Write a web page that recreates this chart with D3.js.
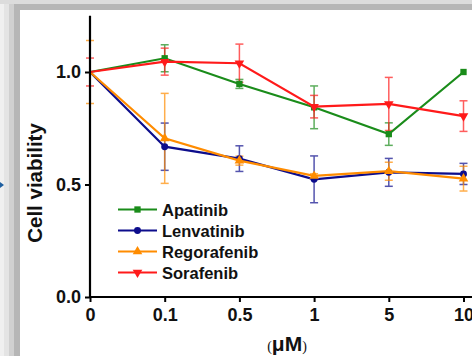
<!DOCTYPE html>
<html><head><meta charset="utf-8">
<script src="https://cdn.jsdelivr.net/npm/d3@7"></script>
<style>html,body{margin:0;padding:0;background:#fff;overflow:hidden}svg{display:block}</style>
</head><body>
<svg id="c" width="472" height="356"></svg>
<script>
const categories = ["0", "0.1", "0.5", "1", "5", "10"];
const seriesNames = ["Apatinib", "Lenvatinib", "Regorafenib", "Sorafenib"];
const seriesColors = ["#1a8c1a", "#0d0d8c", "#ff8c00", "#ff1a1a"];
const seriesSymbols = ["square", "circle", "triangle", "triangleDown"];
const apatinib = [1.0, 1.061, 0.947, 0.843, 0.724, 1.0];
const apatinibErr = [0.0, 0.06, 0.02, 0.095, 0.05, 0.0];
const lenvatinib = [1.0, 0.668, 0.615, 0.523, 0.554, 0.547];
const lenvatinibErr = [0.0, 0.105, 0.057, 0.104, 0.062, 0.047];
const regorafenib = [1.0, 0.705, 0.606, 0.538, 0.559, 0.526];
const regorafenibErr = [0.14, 0.2, 0.02, 0.01, 0.04, 0.055];
const sorafenib = [1.0, 1.046, 1.039, 0.846, 0.858, 0.804];
const sorafenibErr = [0.062, 0.06, 0.085, 0.05, 0.118, 0.068];
const yTicks = [0, 0.5, 1.0];

const values = [apatinib, lenvatinib, regorafenib, sorafenib];
const errs = [apatinibErr, lenvatinibErr, regorafenibErr, sorafenibErr];

const svg = d3.select("#c");
// screenshot frame background
const frame = svg.append("g");
frame.append("rect").attr("x",0).attr("y",0).attr("width",472).attr("height",4).attr("fill","#dcdcdc");
frame.append("rect").attr("x",0).attr("y",4).attr("width",472).attr("height",6).attr("fill","#b6b6b6");
[["#f0f0f0",0,4],["#e4e4e4",4,5],["#d0d0d0",9,5],["#b6b6b6",14,6]].forEach(([c,x,w])=>{
  frame.append("rect").attr("x",x).attr("y",4).attr("width",w).attr("height",352).attr("fill",c);
});
frame.append("path").attr("d","M0,182 L4,185 L0,188 Z").attr("fill","#1f5fa0");

const x = d3.scalePoint().domain(categories).range([90, 463.5]);
const y = d3.scaleLinear().domain([0, 1.25]).range([297, 15.75]);

const font = "'Liberation Sans', Arial, sans-serif";

// error bars
values.forEach((vals, si) => {
  const g = svg.append("g").attr("stroke", seriesColors[si]).attr("stroke-width", 1.5).attr("opacity", 0.7);
  vals.forEach((v, i) => {
    const e = errs[si][i];
    if (!e) return;
    const cx = x(categories[i]);
    g.append("line").attr("x1", cx).attr("x2", cx).attr("y1", y(v + e)).attr("y2", y(v - e));
    g.append("line").attr("x1", cx - 4).attr("x2", cx + 4).attr("y1", y(v + e)).attr("y2", y(v + e));
    g.append("line").attr("x1", cx - 4).attr("x2", cx + 4).attr("y1", y(v - e)).attr("y2", y(v - e));
  });
});

const symTypes = {square: d3.symbolSquare, circle: d3.symbolCircle, triangle: d3.symbolTriangle, triangleDown: d3.symbolTriangle};
const symSizes = {square: 40, circle: 38, triangle: 40, triangleDown: 40};
function drawSym(g, si, cx, cy) {
  const t = seriesSymbols[si];
  g.append("path").attr("d", d3.symbol().type(symTypes[t]).size(symSizes[t])())
    .attr("transform", `translate(${cx},${cy})` + (t === "triangleDown" ? " rotate(180)" : ""))
    .attr("fill", seriesColors[si]);
}

// lines and markers
const line = d3.line().x((d, i) => x(categories[i])).y(d => y(d));
values.forEach((vals, si) => {
  svg.append("path").datum(vals).attr("d", line).attr("fill", "none")
    .attr("stroke", seriesColors[si]).attr("stroke-width", 2.2);
  const g = svg.append("g");
  vals.forEach((v, i) => { if (i > 0) drawSym(g, si, x(categories[i]), y(v)); });
});

// axes
const yAxis = d3.axisLeft(y).tickValues(yTicks).tickFormat(d3.format(".1f")).tickSize(5).tickPadding(4);
const ya = svg.append("g").attr("transform", "translate(90,0)").call(yAxis);
ya.select(".domain").attr("d", "M0,15.75V297").attr("stroke", "#000").attr("stroke-width", 2.2);
ya.selectAll(".tick line").attr("stroke-width", 2);
ya.selectAll("text").attr("font-family", font).attr("font-weight", "bold").attr("font-size", 18).attr("fill", "#111");

const xAxis = d3.axisBottom(x).tickSize(5).tickPadding(6);
const xa = svg.append("g").attr("transform", "translate(0,297)").call(xAxis);
xa.select(".domain").attr("d", "M89,0H480").attr("stroke", "#000").attr("stroke-width", 2.2);
xa.selectAll(".tick line").attr("stroke-width", 2);
xa.selectAll("text").attr("font-family", font).attr("font-weight", "bold").attr("font-size", 18).attr("fill", "#111");

// axis titles
svg.append("text").attr("transform", "translate(42,183) rotate(-90)").attr("text-anchor", "middle")
  .attr("font-family", font).attr("font-weight", "bold").attr("font-size", 20.5).attr("fill", "#111")
  .text("Cell viability");
const xt = svg.append("text").attr("x", 287).attr("y", 351).attr("text-anchor", "middle")
  .attr("font-family", font).attr("font-weight", "bold").attr("fill", "#111");
xt.append("tspan").attr("font-size", 14).attr("font-family", "'Liberation Serif', serif").attr("font-weight", "normal").text("(");
xt.append("tspan").attr("font-size", 21).text("\u03bcM");
xt.append("tspan").attr("font-size", 14).attr("font-family", "'Liberation Serif', serif").attr("font-weight", "normal").text(")");

// legend
const legY = [209.5, 230.5, 251.5, 272.5];
seriesNames.forEach((n, si) => {
  const g = svg.append("g");
  g.append("line").attr("x1", 118).attr("x2", 157).attr("y1", legY[si]).attr("y2", legY[si])
    .attr("stroke", seriesColors[si]).attr("stroke-width", 2.2);
  drawSym(g, si, 137.5, legY[si]);
  g.append("text").attr("x", 162).attr("y", legY[si] + 6).attr("font-family", font)
    .attr("font-weight", "bold").attr("font-size", 16.5).attr("fill", "#111").text(n);
});
</script>
</body></html>
